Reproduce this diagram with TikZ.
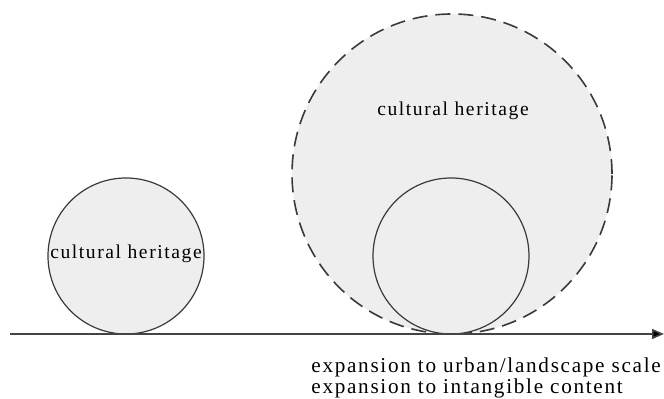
\documentclass[tikz,border=0pt]{standalone}
\usepackage{fontspec}
\setmainfont[LetterSpace=8]{Liberation Serif}
\usetikzlibrary{positioning,arrows,arrows.meta}

\definecolor{heritagefill}{HTML}{EEEEEE}
\definecolor{heritageline}{HTML}{3A3A3A}
\definecolor{axisline}{HTML}{444444}

\tikzset{
  heritage/.style={circle, draw=heritageline, fill=heritagefill, line width=0.6pt, inner sep=0pt},
  heritagetext/.style={font=\fontsize{9.8}{10}\selectfont, inner sep=0pt},
  expansiontext/.style={font=\fontsize{10.6}{9}\selectfont, align=left, inner sep=0pt}
}

\begin{document}
\begin{tikzpicture}[x=0.5pt, y=-0.5pt]
            \useasboundingbox (0,0) rectangle (664,399);

            \node[heritage, minimum size=160pt, line width=0.8pt,
                  dash pattern=on 7.5pt off 4pt] (big)   at (452,174) {};
            \node[heritage, minimum size=78pt]       (inner) at (451,256) {};
            \node[heritage, minimum size=78pt]       (small) at (126,256) {};

            \node[heritagetext] (bigLbl)   at (453,111) {cultural heritage};
            \node[heritagetext] (smallLbl) at (126,254) {cultural heritage};

            \coordinate (axisStart) at (10,334);
            \coordinate (axisEnd)   at (664,334);
            \draw[-{Triangle[length=6pt,width=5pt,fill=black]}, axisline, line width=0.8pt]
                 (axisStart) -- (axisEnd);

            \node[expansiontext, anchor=north west] (expansion) at (311,357)
                 {expansion to urban/landscape scale\\expansion to intangible content};
        \end{tikzpicture}
\end{document}
